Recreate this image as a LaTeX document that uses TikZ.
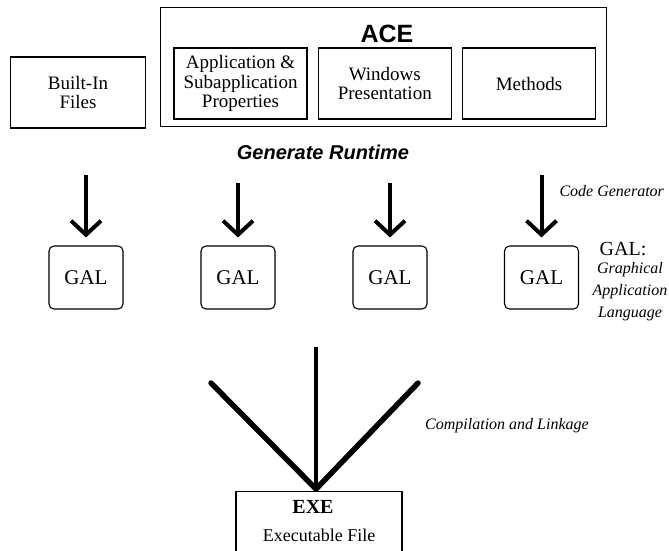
\documentclass[tikz,border=0pt]{standalone}
\usepackage{fontspec}
\setmainfont{Liberation Serif}
\newfontfamily\headfont{Liberation Sans}
\usetikzlibrary{arrows.meta,positioning}

\begin{document}
\begin{tikzpicture}[x=1pt,y=-1pt,node distance=10pt]
  \tikzstyle{part}=[rectangle,draw,line width=1.3pt,minimum width=133pt,minimum height=71pt,inner sep=2pt,align=center,font=\fontsize{19}{19.5}\selectfont]
  \tikzstyle{gal}=[rectangle,draw,line width=1.1pt,rounded corners=5pt,minimum width=74pt,minimum height=63pt,font=\fontsize{21}{24}\selectfont]
  \tikzstyle{flow}=[line width=4pt,-{Straight Barb[length=14pt,width=30pt]}]
  \tikzstyle{link}=[line width=5.5pt,line cap=round]
  \tikzstyle{note}=[font=\itshape\fontsize{16}{22}\selectfont,align=center]

  \useasboundingbox (0,0) rectangle (669,550);
  \clip (0,0) rectangle (669,550);

  % ACE and its three parts
  \node[draw,line width=0.9pt,minimum width=446pt,minimum height=119pt] (ace) at (383,66.5) {};
  \node[font=\headfont\bfseries\fontsize{25}{25}\selectfont] (acetitle) at (387,34) {ACE};
  \node[part] (app) at (240.5,83.5) {Application \&\\Subapplication\\Properties};
  \node[part,right=of app] (win) {Windows\\Presentation};
  \node[part,right=of win] (meth) {Methods};
  \node[part,minimum width=135pt] (builtin) at (78,92.5) {Built-In\\Files};

  \node[font=\headfont\bfseries\itshape\fontsize{20}{24}\selectfont] (gen) at (323,152) {Generate Runtime};

  % generated GAL
  \node[gal] (gal1) at (86,277.5) {GAL};
  \node[gal] (gal2) at (238,277.5) {GAL};
  \node[gal] (gal3) at (390,277.5) {GAL};
  \node[gal] (gal4) at (541.5,277.5) {GAL};
  \coordinate (src1) at (86,175);
  \coordinate (src2) at (238,183);
  \coordinate (src3) at (390,183);
  \coordinate (src4) at (541.5,175);
  \draw[flow] (src1) -- ([yshift=8pt]gal1.north);
  \draw[flow] (src2) -- ([yshift=8pt]gal2.north);
  \draw[flow] (src3) -- ([yshift=8pt]gal3.north);
  \draw[flow] (src4) -- ([yshift=8pt]gal4.north);

  \node[note,anchor=west] (codegen) at (556,191) {Code Generator};
  \node[font=\fontsize{20}{22}\selectfont] (galkey) at (623,249) {GAL:};
  \node[note] (galdef) at (630,292) {Graphical\\Application\\Language};

  % linking into the executable
  \node[draw,line width=1.1pt,minimum width=166pt,minimum height=80pt,anchor=north] (exe) at (319,491) {};
  \node[font=\bfseries\fontsize{20}{24}\selectfont] (exetitle) at (313,507) {EXE};
  \node[font=\fontsize{18}{20}\selectfont] (exetext) at (319,535) {Executable File};
  \coordinate (joint) at (316,489);
  \coordinate (lefttop) at (211,383);
  \coordinate (midtop) at (316,347);
  \coordinate (righttop) at (418,383);
  \draw[link] (lefttop) -- (joint);
  \draw[link] (righttop) -- (joint);
  \draw[line width=4pt] (midtop) -- (joint);

  \node[note] (compile) at (507,426) {Compilation and Linkage};
\end{tikzpicture}
\end{document}
